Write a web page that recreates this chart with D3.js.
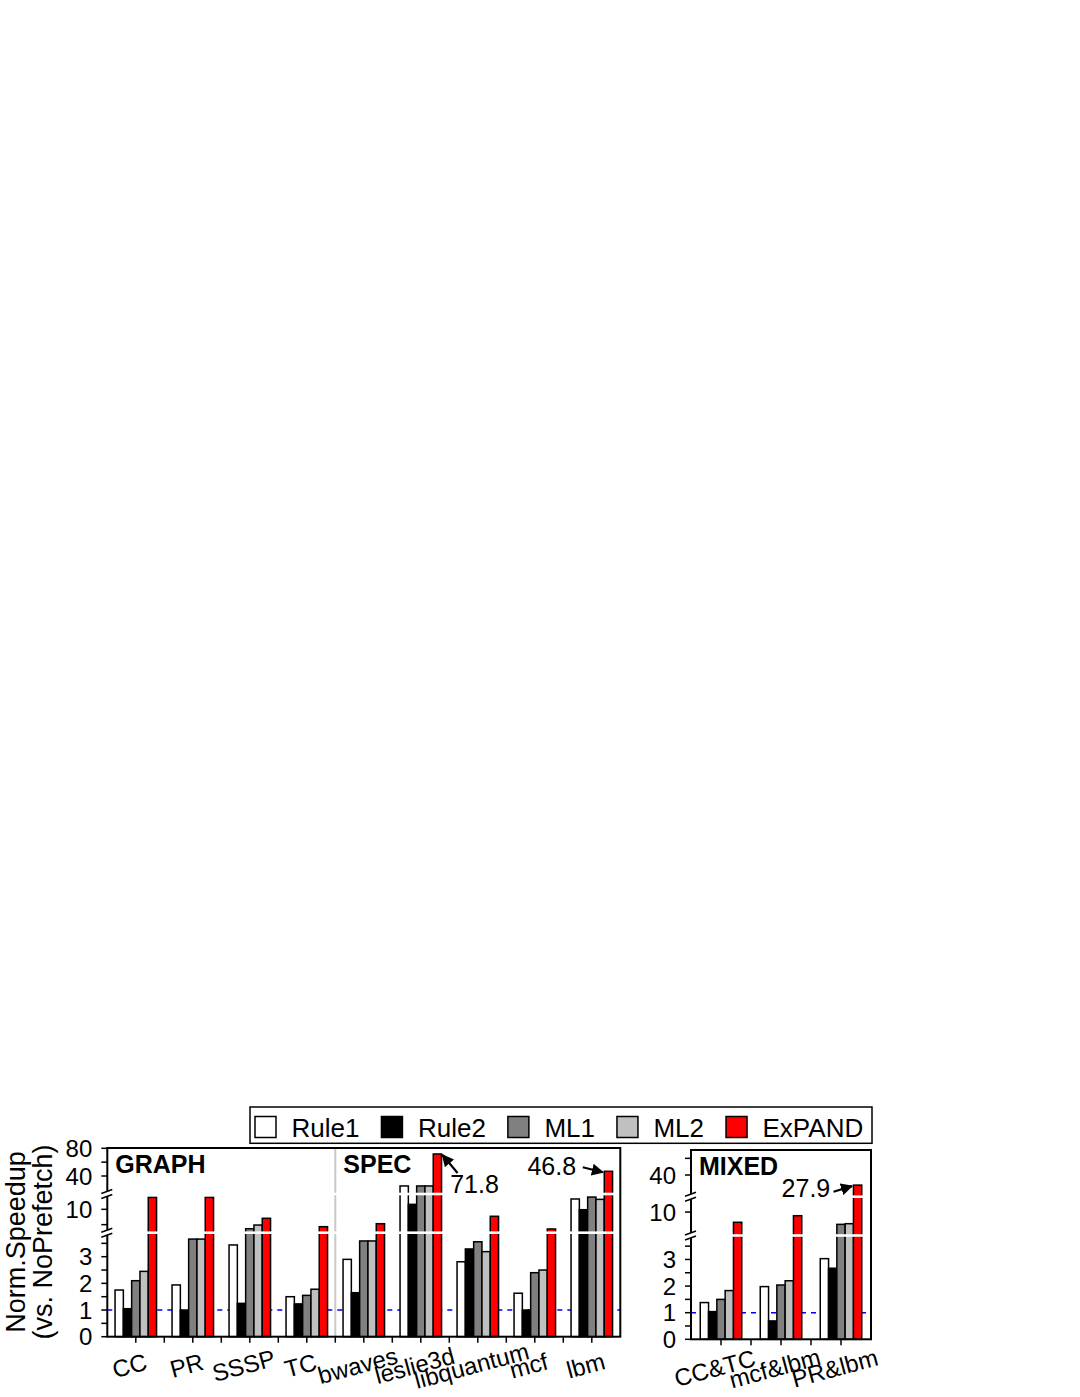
<!DOCTYPE html>
<meta charset="utf-8">
<head>
<script src="https://d3js.org/d3.v7.min.js"></script>
<style>
  body { margin: 0; background: #fff; }
  text { font-family: "Liberation Sans", Arial, sans-serif; fill: #000; }
</style>
</head>
<body>
<svg id="chart" width="1080" height="1397"></svg>
<script>

// series + colours
var series = ["Rule1", "Rule2", "ML1", "ML2", "ExPAND"];
var colors = ["#ffffff", "#000000", "#808080", "#c0c0c0", "#ff0000"];

// GRAPH + SPEC panel
var leftCats   = ["CC", "PR", "SSSP", "TC", "bwaves", "leslie3d", "libquantum", "mcf", "lbm"];
var leftRule1  = [1.75, 1.94, 3.44, 1.50, 2.90, 25.6, 2.81, 1.63, 12.7];
var leftRule2  = [1.05, 1.00, 1.25, 1.23, 1.65, 11.3, 3.29, 1.00, 9.9];
var leftML1    = [2.10, 3.66, 4.94, 1.55, 3.59, 25.6, 3.56, 2.40, 13.2];
var leftML2    = [2.45, 3.66, 5.90, 1.78, 3.59, 25.6, 3.19, 2.50, 12.6];
var leftExPAND = [13.1, 13.1, 7.66, 5.47, 6.25, 71.8, 8.18, 4.87, 46.8];

// MIXED panel
var mixedCats   = ["CC&TC", "mcf&lbm", "PR&lbm"];
var mixedRule1  = [1.38, 1.98, 3.03];
var mixedRule2  = [1.04, 0.69, 2.67];
var mixedML1    = [1.50, 2.04, 6.80];
var mixedML2    = [1.83, 2.20, 6.97];
var mixedExPAND = [7.34, 9.05, 27.9];

// y axis ticks (broken axis: 0-3.9 | 3.9-14 | 14-top)
var leftTicks  = [0, 1, 2, 3, 10, 40, 80];
var leftMinor  = [0.5, 1.5, 2.5, 3.5, 6, 60];
var rightTicks = [0, 1, 2, 3, 10, 40];
var rightMinor = [0.5, 1.5, 2.5, 3.5, 60];
var segDomains = [[0, 3.9], [3.9, 14]];

var svg = d3.select("#chart");
var BARW = 8.3;

// piecewise scale for the broken axis
function brokenScale(domains, ranges) {
  var segs = domains.map(function(d, i) {
    return d3.scaleLinear().domain(d).range(ranges[i]).clamp(true);
  });
  var f = function(v) {
    for (var i = 0; i < domains.length; i++) {
      if (v <= domains[i][1]) return segs[i](v);
    }
    return segs[segs.length - 1](v);
  };
  f.breaks = ranges.slice(0, -1).map(function(r) { return r[1]; });
  return f;
}

function drawPanel(o) {
  var g = svg.append("g");
  var x0 = d3.scaleBand().domain(o.cats).range([o.left, o.right]);
  var pad = (x0.bandwidth() - series.length * BARW) / 2 / BARW;
  var x1 = d3.scaleBand().domain(series).range([0, x0.bandwidth()]).paddingOuter(pad);
  var y = o.y;
  var base = y(0);

  // reference line at 1
  g.append("line")
    .attr("x1", o.left).attr("x2", o.right)
    .attr("y1", y(1)).attr("y2", y(1))
    .attr("stroke", "#0000ff").attr("stroke-width", 1.5)
    .attr("stroke-dasharray", "5,5");

  // separator between groups
  if (o.sepAt != null) {
    g.append("line")
      .attr("x1", x0(o.cats[o.sepAt])).attr("x2", x0(o.cats[o.sepAt]))
      .attr("y1", o.top).attr("y2", base)
      .attr("stroke", "#c8c8c8").attr("stroke-width", 2);
  }

  // bars
  var rows = [];
  o.cats.forEach(function(c, i) {
    series.forEach(function(s, j) {
      rows.push({cat: c, s: s, j: j, v: o.values[j][i]});
    });
  });
  g.selectAll("rect.bar")
    .data(rows)
    .enter()
    .append("rect")
      .attr("class", "bar")
      .attr("x", function(d) { return x0(d.cat) + x1(d.s); })
      .attr("width", x1.bandwidth())
      .attr("y", function(d) { return y(d.v); })
      .attr("height", function(d) { return base - y(d.v); })
      .attr("fill", function(d) { return colors[d.j]; })
      .attr("stroke", "#000").attr("stroke-width", 1.5);

  // white gaps at the axis breaks
  y.breaks.forEach(function(b) {
    g.append("rect")
      .attr("x", o.left + 1).attr("width", o.right - o.left - 2)
      .attr("y", b - 1.3).attr("height", 2.6)
      .attr("fill", "#fff");
  });

  // frame
  g.append("rect")
    .attr("x", o.left).attr("y", o.top)
    .attr("width", o.right - o.left).attr("height", base - o.top)
    .attr("fill", "none").attr("stroke", "#000").attr("stroke-width", 2);

  // y ticks + labels
  o.ticks.concat(o.minor).forEach(function(t) {
    g.append("line")
      .attr("x1", o.left - 6).attr("x2", o.left)
      .attr("y1", y(t)).attr("y2", y(t))
      .attr("stroke", "#000").attr("stroke-width", 1.5);
  });
  g.selectAll("text.ytick")
    .data(o.ticks)
    .enter()
    .append("text")
      .attr("class", "ytick")
      .attr("x", o.left - 15)
      .attr("y", function(d) { return y(d); })
      .attr("dy", "0.36em")
      .attr("text-anchor", "end")
      .style("font-size", "24px")
      .text(function(d) { return d; });

  // break marks on the y axis
  y.breaks.forEach(function(b) {
    g.append("rect")
      .attr("x", o.left - 3).attr("width", 6)
      .attr("y", b - 2.5).attr("height", 5)
      .attr("fill", "#fff");
    [-2.5, 2.5].forEach(function(dy) {
      g.append("line")
        .attr("x1", o.left - 6).attr("x2", o.left + 5)
        .attr("y1", b + dy + 2).attr("y2", b + dy - 2)
        .attr("stroke", "#000").attr("stroke-width", 1.5);
    });
  });

  // x ticks: centre + boundaries
  var xt = [];
  o.cats.forEach(function(c, i) {
    xt.push(x0(c) + x0.bandwidth() / 2);
    if (i > 0) xt.push(x0(c));
  });
  xt.forEach(function(t) {
    g.append("line")
      .attr("x1", t).attr("x2", t)
      .attr("y1", base).attr("y2", base + 6)
      .attr("stroke", "#000").attr("stroke-width", 1.5);
  });

  // x labels, rotated
  g.selectAll("text.xlab")
    .data(o.cats)
    .enter()
    .append("text")
      .attr("class", "xlab")
      .attr("text-anchor", "middle")
      .style("font-size", "24px")
      .attr("transform", function(d) {
        var cx = x0(d) + x0.bandwidth() / 2 - 4;
        return "translate(" + cx + "," + (base + 37) + ") rotate(-15)";
      })
      .text(function(d) { return d; });

  // group titles
  o.titles.forEach(function(t) {
    g.append("text")
      .attr("x", x0(o.cats[t.at]) + 8)
      .attr("y", o.top + 25)
      .style("font-size", "25px").style("font-weight", "bold")
      .text(t.name);
  });

  return {x0: x0, x1: x1, y: y};
}

// ---- left panel (GRAPH + SPEC)
var yLeft = brokenScale(segDomains.concat([[14, 80]]),
  [[1336.7, 1232.7], [1232.7, 1194], [1194, 1148.3]]);
var pl = drawPanel({
  cats: leftCats,
  values: [leftRule1, leftRule2, leftML1, leftML2, leftExPAND],
  left: 107.3, right: 620.3, top: 1148,
  y: yLeft, ticks: leftTicks, minor: leftMinor,
  sepAt: 4,
  titles: [{name: "GRAPH", at: 0}, {name: "SPEC", at: 4}]
});

// ---- right panel (MIXED)
var yRight = brokenScale(segDomains.concat([[14, 70]]),
  [[1339.3, 1235.5], [1235.5, 1196.7], [1196.7, 1150]]);
var pr = drawPanel({
  cats: mixedCats,
  values: [mixedRule1, mixedRule2, mixedML1, mixedML2, mixedExPAND],
  left: 691, right: 871, top: 1150,
  y: yRight, ticks: rightTicks, minor: rightMinor,
  sepAt: null,
  titles: [{name: "MIXED", at: 0}]
});

// ---- arrows + value labels for the tall bars
svg.append("defs").append("marker")
  .attr("id", "arr")
  .attr("viewBox", "0 0 10 10")
  .attr("refX", 9).attr("refY", 5)
  .attr("markerWidth", 5.5).attr("markerHeight", 5.5)
  .attr("orient", "auto")
  .append("path").attr("d", "M0,0 L10,5 L0,10 z").attr("fill", "#000");

// head sits at the bar top; tail and label are offset from the head
function annotate(p, cat, v, side, tail, lab) {
  var bx = p.x0(cat) + p.x1("ExPAND");
  var hy = p.y(v) + 1;
  var hx = side === "right" ? bx + BARW + 1 : bx - 1.5;
  svg.append("line")
    .attr("x1", hx + tail[0]).attr("y1", hy + tail[1])
    .attr("x2", hx).attr("y2", hy)
    .attr("stroke", "#000").attr("stroke-width", 2.2)
    .attr("marker-end", "url(#arr)");
  svg.append("text")
    .attr("x", hx + lab[0]).attr("y", hy + lab[1])
    .attr("text-anchor", side === "right" ? "start" : "end")
    .style("font-size", "25px")
    .text(v);
}
annotate(pl, "leslie3d", leftExPAND[5], "right", [15, 18], [7.6, 38.4]);
annotate(pl, "lbm", leftExPAND[8], "left", [-20, -5], [-26.7, 2.6]);
annotate(pr, "PR&lbm", mixedExPAND[2], "left", [-18.4, 5.7], [-21.7, 11.3]);

// ---- y axis title
var yt = svg.append("g").attr("transform", "translate(0,1242)");
yt.append("text")
  .attr("transform", "translate(25,0) rotate(-90)")
  .attr("text-anchor", "middle").style("font-size", "27px")
  .text("Norm.Speedup");
yt.append("text")
  .attr("transform", "translate(52,0) rotate(-90)")
  .attr("text-anchor", "middle").style("font-size", "27px")
  .text("(vs. NoPrefetch)");

// ---- legend
var lg = svg.append("g");
lg.append("rect")
  .attr("x", 250).attr("y", 1107)
  .attr("width", 622).attr("height", 36.3)
  .attr("fill", "#fff").attr("stroke", "#000").attr("stroke-width", 1.5);
var lx = 255;
series.forEach(function(s, i) {
  lg.append("rect")
    .attr("x", lx).attr("y", 1116.5)
    .attr("width", 21).attr("height", 21)
    .attr("fill", colors[i]).attr("stroke", "#000").attr("stroke-width", 1.5);
  var t = lg.append("text")
    .attr("x", lx + 36.5).attr("y", 1136.5)
    .style("font-size", "26px")
    .text(s);
  lx = lx + 36.5 + t.node().getComputedTextLength() + 22;
});

</script>
</body>
